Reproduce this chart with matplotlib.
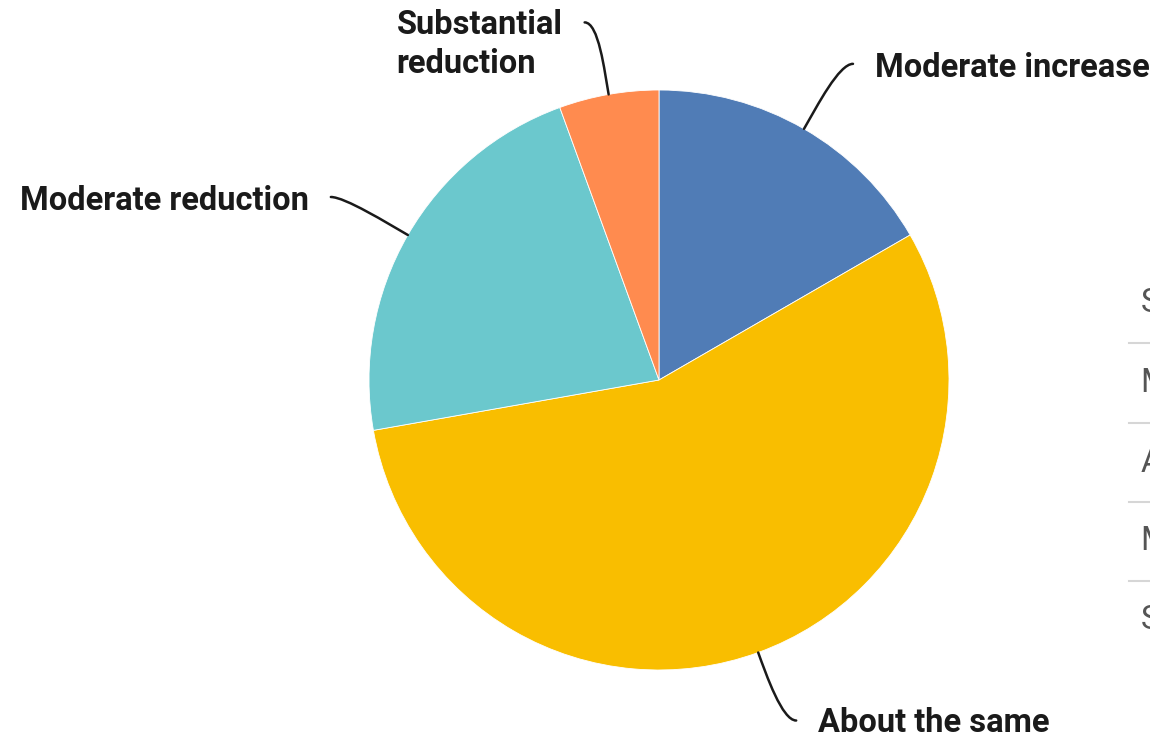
import numpy as np
import matplotlib
matplotlib.use("Agg")
import matplotlib.pyplot as plt
from matplotlib.path import Path
from matplotlib.patches import PathPatch

# Response categories (table order) and counts
categories = ["Substantial increase", "Moderate increase", "About the same",
              "Moderate reduction", "Substantial reduction"]
counts = [0, 3, 10, 4, 1]
slice_colors = {"Substantial increase": "#2DCCD3",
                "Moderate increase": "#507CB6",
                "About the same": "#F9BE00",
                "Moderate reduction": "#6BC8CD",
                "Substantial reduction": "#FF8B4F"}

# Pie label text (wrapped where needed)
label_text = {"Moderate increase": "Moderate increase",
              "About the same": "About the same",
              "Moderate reduction": "Moderate reduction",
              "Substantial reduction": "Substantial\nreduction"}

W, H = 1150, 740
fig = plt.figure(figsize=(W / 100, H / 100), dpi=100)
ax = fig.add_axes([0, 0, 1, 1])

cx, cy, R = 659, 360, 290
shown = [(c, v) for c, v in zip(categories, counts) if v > 0]
names = [c for c, _ in shown]
vals = [v for _, v in shown]
ax.pie(vals, colors=[slice_colors[n] for n in names], startangle=90,
       counterclock=False, center=(cx, cy), radius=R,
       wedgeprops=dict(linewidth=0.6, edgecolor="white"))

font = dict(family=["Roboto", "DejaVu Sans"], fontsize=23.5, fontweight="bold",
            color="#1a1a1a")

# leader geometry per label: (radial run, reach dx, reach dy, side, text shift)
leader = {"Moderate increase": (45, 49, 65, 1, -4),
          "Substantial reduction": (40, -24, 72, -1, 13),
          "Moderate reduction": (40, -77, 38, -1, -4),
          "About the same": (40, 38, -68, 1, -2)}

total = float(sum(vals))
start = 0.0
for n, v in zip(names, vals):
    mid = start + v / total * 360 / 2
    start += v / total * 360
    th = np.deg2rad(mid)
    ux, uy = np.sin(th), np.cos(th)
    p0 = np.array([cx + R * ux, cy + R * uy])
    run, dx, dy, side, shift = leader[n]
    p3 = p0 + np.array([dx, dy])
    p1 = p0 + np.array([ux, uy]) * run * 0.6
    p2 = p3 - np.array([side * 14, 0])
    path = Path([p0, p1, p2, p3], [Path.MOVETO, Path.CURVE4, Path.CURVE4, Path.CURVE4])
    ax.add_patch(PathPatch(path, fill=False, lw=1.8, color="#1a1a1a",
                           capstyle="round"))
    tx = p3[0] + side * 22
    ha = "left" if side > 0 else "right"
    txt = label_text[n]
    if "\n" in txt:
        # two-line block: first line level with the leader end
        ax.text(tx, p3[1] + shift, txt, ha=ha, va="top", multialignment="left",
                linespacing=1.25, **font)
    else:
        ax.text(tx, p3[1] + shift, txt, ha=ha, va="center", **font)

# Response table at the right edge
row_y = [H - 303, H - 383, H - 463, H - 541, H - 620]
for name, y in zip(categories, row_y):
    ax.text(1141, y, name, ha="left", va="center",
            family=["Roboto", "DejaVu Sans"], fontsize=23.5, color="#555555",
            clip_on=True)
for y0, y1 in zip(row_y[:-1], row_y[1:]):
    ax.plot([1129, 1150], [(y0 + y1) / 2] * 2, color="#d6d6d6", lw=1.5)

ax.set_xlim(0, W)
ax.set_ylim(0, H)
ax.set_aspect("equal")
ax.axis("off")
fig.savefig("out.png", dpi=100, facecolor="white")
